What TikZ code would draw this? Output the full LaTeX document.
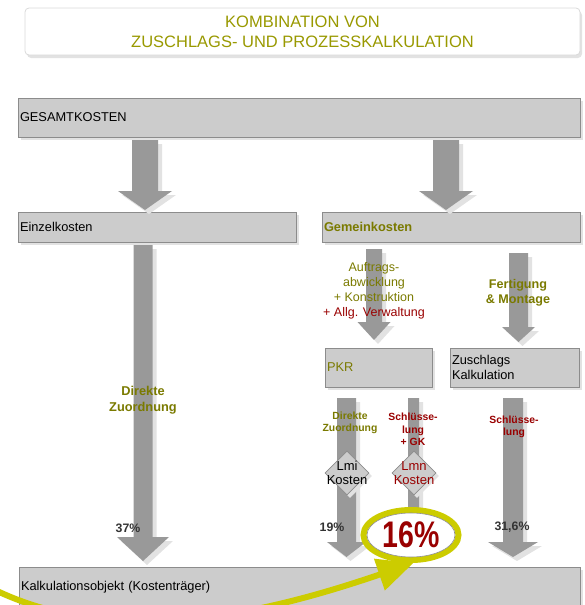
\documentclass[tikz,border=0pt]{standalone}
\usepackage{fontspec}
\usepackage{graphicx}
\setmainfont{Liberation Sans}
\usetikzlibrary{calc,shapes.geometric,shadows,arrows.meta}

\definecolor{kastengrau}{RGB}{204,204,204}
\definecolor{randgrau}{RGB}{140,140,140}
\definecolor{pfeilgrau}{RGB}{153,153,153}
\definecolor{schattengrau}{RGB}{226,226,226}
\definecolor{olivtext}{RGB}{122,122,0}
\definecolor{titeltext}{RGB}{153,153,0}
\definecolor{dunkelrot}{RGB}{153,0,0}
\definecolor{ringgelb}{RGB}{204,204,0}
\definecolor{prozentgrau}{RGB}{51,51,51}

\tikzset{every picture/.style={line width=0.75pt}}
\tikzset{
  kasten/.style={rectangle, fill=kastengrau, draw=randgrau, line width=0.8pt,
    inner xsep=2pt, inner ysep=0pt, align=left, font=\fontsize{12.8}{15}\selectfont,
    drop shadow={shadow xshift=3pt, shadow yshift=-3pt, fill=schattengrau, opacity=1}},
  titelkasten/.style={rectangle, rounded corners=4pt, fill=white, draw=black!15,
    text=titeltext, align=center, font=\fontsize{16.5}{20}\selectfont,
    drop shadow={shadow xshift=2pt, shadow yshift=-3pt, fill=schattengrau, opacity=1}},
  pfeil/.style={fill=pfeilgrau, draw=none},
  pfeilschatten/.style={fill=schattengrau, draw=none},
  pfeiltext/.style={align=center, inner sep=0pt, font=\fontsize{12.5}{15}\selectfont},
  kleintext/.style={align=center, inner sep=0pt, font=\fontsize{10.4}{12.5}\selectfont\bfseries},
  prozent/.style={inner sep=0pt, text=prozentgrau, font=\fontsize{12.3}{14}\selectfont\bfseries},
  raute/.style={diamond, fill=kastengrau, draw=randgrau, line width=0.6pt, inner sep=0pt,
    minimum width=44pt, minimum height=44pt,
    drop shadow={shadow xshift=3pt, shadow yshift=-3pt, fill=schattengrau, opacity=1}},
  rautentext/.style={align=center, inner sep=0pt, font=\fontsize{13}{14}\selectfont},
  gelbring/.style={ellipse, draw=ringgelb, line width=6pt, fill=white, inner sep=0pt,
    minimum width=95pt, minimum height=50pt},
  anteil/.style={ellipse, draw=black!45, line width=0.6pt, fill=white, inner sep=0pt,
    minimum width=88pt, minimum height=44pt, text=dunkelrot},
  gelbpfeil/.style={draw=ringgelb, line width=6pt, -{Triangle[length=36pt,width=32pt]}}
}

% block arrow: #1 top, #2 tip, #3 shaft half width, #4 head half width, #5 head length
\newcommand{\kostenpfeil}[5]{%
  \foreach \dx/\dy/\st in {4/4/pfeilschatten,0/0/pfeil}{
    \path[\st] ($(#1)+(-#3+\dx,\dy)$) -- ($(#2)+(-#3+\dx,-#5+\dy)$) -- ($(#2)+(-#4+\dx,-#5+\dy)$)
      -- ($(#2)+(\dx,\dy)$) -- ($(#2)+(#4+\dx,-#5+\dy)$) -- ($(#2)+(#3+\dx,-#5+\dy)$)
      -- ($(#1)+(#3+\dx,\dy)$) -- cycle;
  }%
}

\begin{document}
\begin{tikzpicture}[x=1pt,y=1pt,yscale=-1,xscale=1]
    \useasboundingbox (0,0) rectangle (585,605);
    \clip (0,0) rectangle (585,605);

    %Title
    \node[titelkasten, minimum width=555pt, minimum height=47pt] (titel) at (302.5,31.5)
      {KOMBINATION VON\\ZUSCHLAGS- UND PROZESSKALKULATION};

    %Boxes
    \node[kasten, minimum width=562pt, text width=558pt, minimum height=39pt] (gesamt) at (299,117.5) {GESAMTKOSTEN};
    \node[kasten, minimum width=278pt, text width=274pt, minimum height=30pt] (einzel) at (157,227) {Einzelkosten};
    \node[kasten, minimum width=258pt, text width=254pt, minimum height=30pt, font=\fontsize{12.8}{15}\selectfont\bfseries, text=olivtext] (gemein) at (451,227) {Gemeinkosten};
    \node[kasten, minimum width=107pt, text width=103pt, minimum height=39pt, text=olivtext] (pkr) at (378.5,367.5) {PKR};
    \node[kasten, minimum width=129pt, text width=125pt, minimum height=39pt] (zuschlag) at (514.5,367.5) {Zuschlags\\Kalkulation};
    \node[kasten, minimum width=561pt, text width=557pt, minimum height=41pt] (kalk) at (299.5,587.5) {Kalkulationsobjekt (Kostenträger)};

    %Arrow ends
    \coordinate (g1) at (145,140);  \coordinate (e1) at (145,210);
    \coordinate (g2) at (446,140);  \coordinate (e2) at (446,210);
    \coordinate (g3) at (143,245);  \coordinate (e3) at (143,561);
    \coordinate (g4) at (374,249);  \coordinate (e4) at (374,340);
    \coordinate (g5) at (518.5,253); \coordinate (e5) at (518.5,342);
    \coordinate (g6) at (346.5,398); \coordinate (e6) at (346.5,557);
    \coordinate (g7) at (413.5,398); \coordinate (e7) at (413.5,557);
    \coordinate (g8) at (513,398);  \coordinate (e8) at (513,557);

    %Block arrows
    \kostenpfeil{g1}{e1}{13}{27}{19}
    \kostenpfeil{g2}{e2}{13}{27}{19}
    \kostenpfeil{g3}{e3}{9.5}{26}{24}
    \kostenpfeil{g4}{e4}{8}{16.5}{18}
    \kostenpfeil{g5}{e5}{9.5}{16.5}{15}
    \kostenpfeil{g6}{e6}{9.5}{19.5}{15}
    \kostenpfeil{g7}{e7}{5.5}{15}{15}
    \kostenpfeil{g8}{e8}{10}{25}{15}

    % Text Node
    \node[pfeiltext, text=olivtext] (auftrag) at (374,290.5)
      {Auftrags-\\abwicklung\\+ Konstruktion\\\textcolor{dunkelrot}{+ Allg. Verwaltung}};
    % Text Node
    \node[pfeiltext, text=olivtext, font=\fontsize{12.6}{15}\selectfont\bfseries] (fertigung) at (518,292.5)
      {Fertigung\\\& Montage};
    % Text Node
    \node[pfeiltext, text=olivtext, font=\fontsize{12.8}{16}\selectfont\bfseries] (direktgross) at (143,400)
      {Direkte\\Zuordnung};
    % Text Node
    \node[kleintext, text=olivtext] (direktklein) at (350,423) {Direkte\\Zuordnung};
    % Text Node
    \node[kleintext, text=dunkelrot] (schluessel) at (413,429.5) {Schlüsse-\\lung\\+ GK};
    % Text Node
    \node[kleintext, text=dunkelrot] (schluesselr) at (514,427) {Schlüsse-\\lung};

    %Diamonds
    \node[raute] (lmi) at (347,473) {};
    \node[rautentext] (lmitext) at (lmi.center) {Lmi\\Kosten};
    \node[raute] (lmn) at (414,473) {};
    \node[rautentext, text=dunkelrot] (lmntext) at (lmn.center) {Lmn\\Kosten};

    % Text Node
    \node[prozent] (p37) at (128,528) {37\%};
    \node[prozent] (p19) at (332,527) {19\%};
    \node[prozent] (p316) at (512,527) {31,6\%};

    %Ellipse 16%
    \node[gelbring] (ring16) at (411,535) {};
    \node[anteil] (anteil16) at (ring16.center)
      {\scalebox{0.77}[1]{\fontsize{37}{37}\selectfont\bfseries 16\%}};

    %Curve Lines
    \coordinate (gelbstart) at (-5,590);
    \draw[gelbpfeil] (gelbstart) .. controls (120,650) and (270,612) .. (ring16.-85);

\end{tikzpicture}
\end{document}
